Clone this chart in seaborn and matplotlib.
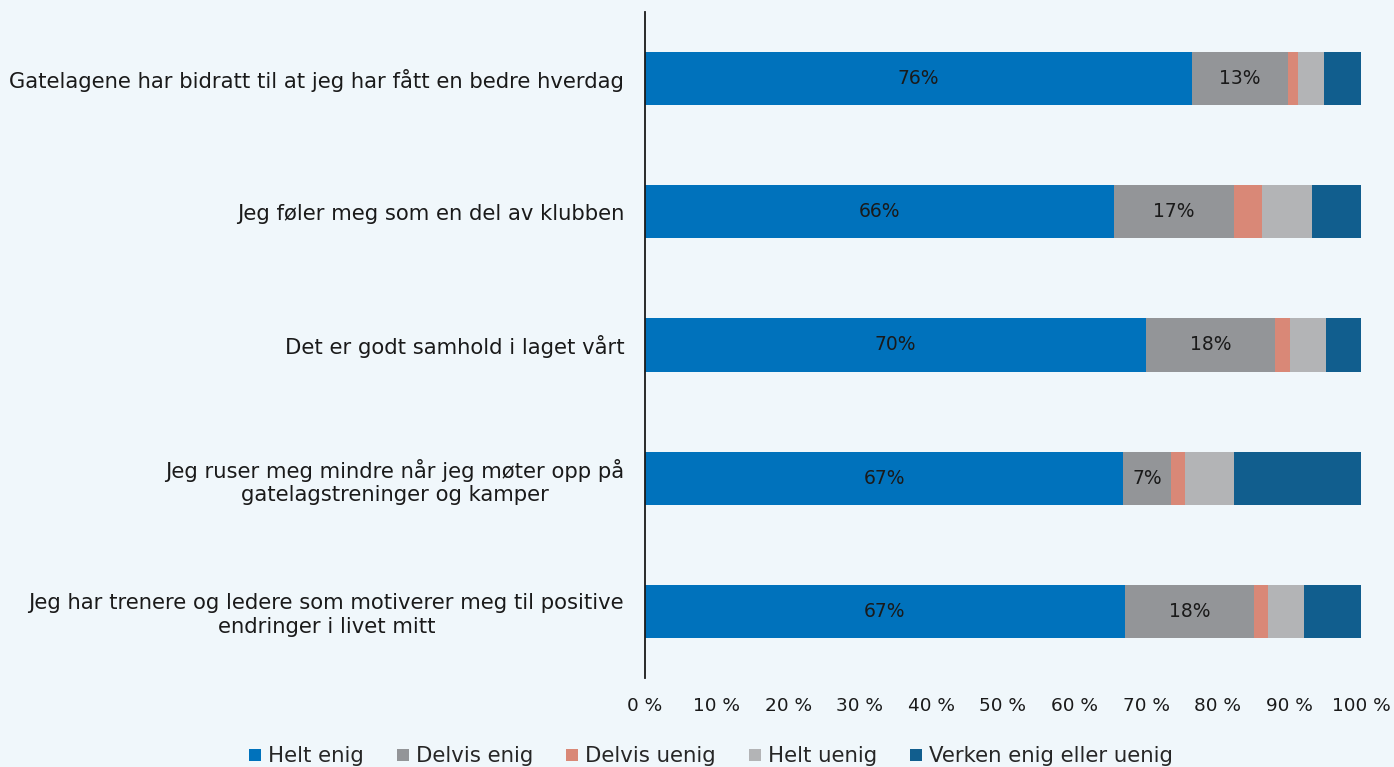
import matplotlib
matplotlib.use("Agg")
import matplotlib.pyplot as plt
from matplotlib.lines import Line2D
import numpy as np
import pandas as pd
import seaborn as sns

# statements (top to bottom)
statements = [
    "Gatelagene har bidratt til at jeg har fått en bedre hverdag",
    "Jeg føler meg som en del av klubben",
    "Det er godt samhold i laget vårt",
    "Jeg ruser meg mindre når jeg møter opp på\ngatelagstreninger og kamper",
    "Jeg har trenere og ledere som motiverer meg til positive\nendringer i livet mitt",
]
answers = ["Helt enig", "Delvis enig", "Delvis uenig", "Helt uenig", "Verken enig eller uenig"]
colors = ["#0072BC", "#939598", "#D98877", "#B3B4B6", "#115E8E"]

helt_enig = [76.4, 65.5, 70.0, 66.8, 67.0]
delvis_enig = [13.4, 16.7, 18.0, 6.7, 18.1]
delvis_uenig = [1.4, 4.0, 2.1, 1.9, 1.9]
helt_uenig = [3.6, 7.0, 5.0, 6.8, 5.1]
verken = [5.2, 6.8, 4.9, 17.8, 7.9]

df = pd.DataFrame({"statement": statements,
                   "Helt enig": helt_enig, "Delvis enig": delvis_enig,
                   "Delvis uenig": delvis_uenig, "Helt uenig": helt_uenig,
                   "Verken enig eller uenig": verken})
cum = df[answers].cumsum(axis=1)

bg = "#F0F7FB"
txt = "#1a1a1a"
sns.set_theme(style="white")
plt.rcParams["font.family"] = ["DejaVu Sans"]

fig = plt.figure(figsize=(13.94, 7.67), dpi=100, facecolor=bg)
ax = fig.add_axes([0.4627, 0.116, 0.5136, 0.8684])
ax.set_facecolor(bg)

# stacked bars: draw cumulative totals from the back to the front
for ans, col in reversed(list(zip(answers, colors))):
    sns.barplot(x=cum[ans], y=df["statement"], color=col, orient="h",
                width=0.4, ax=ax, saturation=1, linewidth=0)

# value labels for the first two segments
for i in range(len(statements)):
    ax.text(helt_enig[i] / 2, i, f"{helt_enig[i]:.0f}%", ha="center", va="center",
            fontsize=13.5, color=txt)
    ax.text(helt_enig[i] + delvis_enig[i] / 2, i, f"{delvis_enig[i]:.0f}%",
            ha="center", va="center", fontsize=13.5, color=txt)

ax.set_xlim(0, 100)
ax.set_ylim(4.5, -0.5)
ax.set_xticks(np.arange(0, 101, 10))
ax.set_xticklabels([f"{v} %" for v in range(0, 101, 10)], fontsize=13.3, color=txt)
ax.tick_params(axis="y", labelsize=15.2, labelcolor=txt, length=0, pad=15)
ax.tick_params(axis="x", length=0, pad=14)
for lab in ax.get_yticklabels():
    lab.set_multialignment("center")
ax.set_xlabel("")
ax.set_ylabel("")
sns.despine(ax=ax, top=True, right=True, bottom=True)
ax.spines["left"].set_color(txt)
ax.spines["left"].set_linewidth(1.3)

handles = [Line2D([0], [0], marker="s", linestyle="", markersize=8,
                  markerfacecolor=c, markeredgewidth=0) for c in colors]
fig.legend(handles, answers, loc="center", bbox_to_anchor=(0.51, 0.014),
           ncol=5, frameon=False, fontsize=15.3, handlelength=0.6,
           handletextpad=0.3, columnspacing=1.55)

fig.savefig("out.png", dpi=100, facecolor=bg)
